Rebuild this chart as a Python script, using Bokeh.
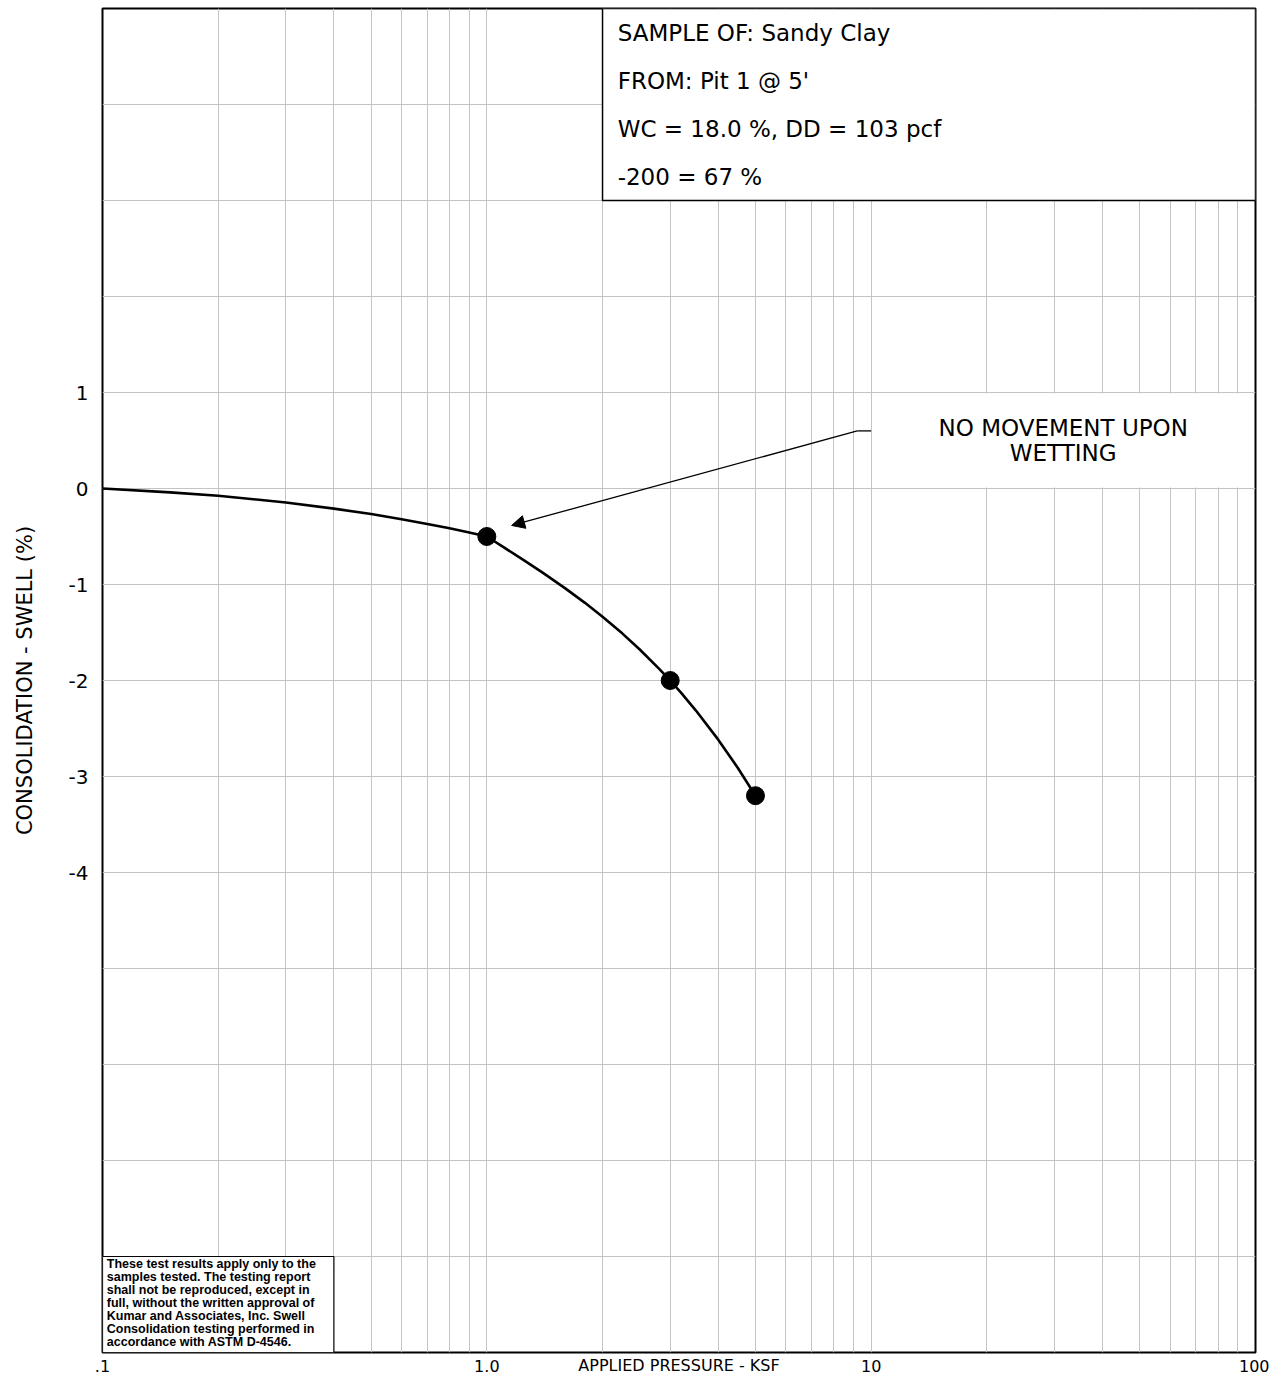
from bokeh.plotting import figure
from bokeh.models import FixedTicker, Arrow, NormalHead
from bokeh.core.properties import value
from bokeh.embed import file_html
from bokeh.resources import INLINE

# ---- data ----
curve_x = [0.1, 0.15, 0.2, 0.3, 0.4, 0.5, 0.6, 0.7, 0.8, 0.9, 1.0,
           1.1, 1.25, 1.4, 1.6, 1.8, 2.0, 2.25, 2.5, 2.8, 3.0, 3.2, 3.5, 4.0, 4.5, 5.0]
curve_y = [0.0, -0.04, -0.075, -0.145, -0.21, -0.265, -0.32, -0.37, -0.415, -0.458, -0.5,
           -0.606, -0.749, -0.879, -1.04, -1.191, -1.335, -1.509, -1.677, -1.873, -2.0,
           -2.127, -2.313, -2.616, -2.911, -3.2]
point_x = [1.0, 3.0, 5.0]
point_y = [-0.5, -2.0, -3.2]

x_tick_values = [0.1, 1.0, 10.0, 100.0]
x_tick_labels = [".1", "1.0", "10", "100"]
y_tick_values = [1, 0, -1, -2, -3, -4]
y_tick_labels = ["1", "0", "-1", "-2", "-3", "-4"]
x_grid_values = [m * d for d in (0.1, 1.0, 10.0) for m in range(1, 10)] + [100.0]
y_grid_values = list(range(-9, 6))

info_lines = ["SAMPLE OF: Sandy Clay", "FROM: Pit 1 @ 5'", "WC = 18.0 %, DD = 103 pcf", "-200 = 67 %"]
note_lines = ["NO MOVEMENT UPON", "WETTING"]
disclaimer_lines = [
    "These test results apply only to the",
    "samples tested. The testing report",
    "shall not be reproduced, except in",
    "full, without the written approval of",
    "Kumar and Associates, Inc. Swell",
    "Consolidation testing performed in",
    "accordance with ASTM D-4546.",
]

FONT = "DejaVu Sans"

p = figure(
    x_axis_type="log", x_range=(0.1, 100), y_range=(-9, 5),
    frame_width=1153, frame_height=1344,
    min_border_left=102, min_border_right=14, min_border_top=8, min_border_bottom=18,
    output_backend="svg", toolbar_location=None,
)
p.background_fill_color = "white"
p.outline_line_color = "black"
p.outline_line_width = 2

# grid
p.xgrid.ticker = FixedTicker(ticks=x_grid_values)
p.ygrid.ticker = FixedTicker(ticks=y_grid_values)
for g in (p.xgrid, p.ygrid):
    g.grid_line_color = "#c4c4c4"
    g.grid_line_width = 1

# axes
p.xaxis.ticker = FixedTicker(ticks=x_tick_values)
p.xaxis.major_label_overrides = {v: l for v, l in zip(x_tick_values, x_tick_labels)}
p.yaxis.ticker = FixedTicker(ticks=y_tick_values)
p.yaxis.major_label_overrides = {v: l for v, l in zip(y_tick_values, y_tick_labels)}
p.xaxis.minor_tick_line_color = None
p.yaxis.minor_tick_line_color = None
for ax in (p.xaxis, p.yaxis):
    ax.axis_line_color = None
    ax.major_tick_line_color = None
    ax.major_label_text_font = FONT
    ax.major_label_text_color = "black"
    ax.axis_label_text_font = FONT
    ax.axis_label_text_font_style = "normal"
    ax.axis_label_text_color = "black"
p.xaxis.major_label_text_font_size = "16px"
p.xaxis.major_label_standoff = 1
p.xaxis.axis_label = "APPLIED PRESSURE - KSF"
p.xaxis.axis_label_text_font_size = "16px"
p.xaxis.axis_label_standoff = -19
p.yaxis.major_label_text_font_size = "20px"
p.yaxis.major_label_standoff = 8
p.yaxis.axis_label = "CONSOLIDATION - SWELL (%)"
p.yaxis.axis_label_text_font_size = "21px"
p.yaxis.axis_label_standoff = 29

# info box (top right)
p.quad(left=[2.0], right=[100.0], bottom=[3.0], top=[5.0],
       fill_color="white", line_color="black", line_width=1.5)
info_y = [4.75, 4.24, 3.74, 3.24]
p.text(x=[2.19] * len(info_lines), y=info_y, text=info_lines,
       text_font=value(FONT), text_font_size="23px", text_color="black",
       text_baseline="middle", text_align="left")

# note box
p.quad(left=[10.15], right=[99.0], bottom=[0.01], top=[0.99],
       fill_color="white", line_color=None)
p.text(x=[31.6, 31.6], y=[0.635, 0.365], text=note_lines,
       text_font=value(FONT), text_font_size="23px", text_color="black",
       text_baseline="middle", text_align="center")

# leader + arrow
p.line(x=[10.0, 9.2], y=[0.6, 0.6], line_color="black", line_width=1.3)
p.add_layout(Arrow(end=NormalHead(size=13, fill_color="black", line_color="black", line_width=1),
                   x_start=9.2, y_start=0.6, x_end=1.16, y_end=-0.385,
                   line_color="black", line_width=1.3))

# disclaimer box
p.quad(left=[0.1], right=[0.4], bottom=[-9.0], top=[-8.0],
       fill_color="white", line_color="black", line_width=1.2)
disc_y = [-8.075 - i * 0.1365 for i in range(len(disclaimer_lines))]
p.text(x=[0.1026] * len(disclaimer_lines), y=disc_y, text=disclaimer_lines,
       text_font=value("Liberation Sans"), text_font_size="12.5px", text_font_style="bold",
       text_color="black", text_baseline="middle", text_align="left")

# curve + points
p.line(curve_x, curve_y, line_color="black", line_width=2.6, line_join="round")
p.scatter(point_x, point_y, size=18, fill_color="black", line_color="black")

open("out.html", "w").write(file_html(p, INLINE))
